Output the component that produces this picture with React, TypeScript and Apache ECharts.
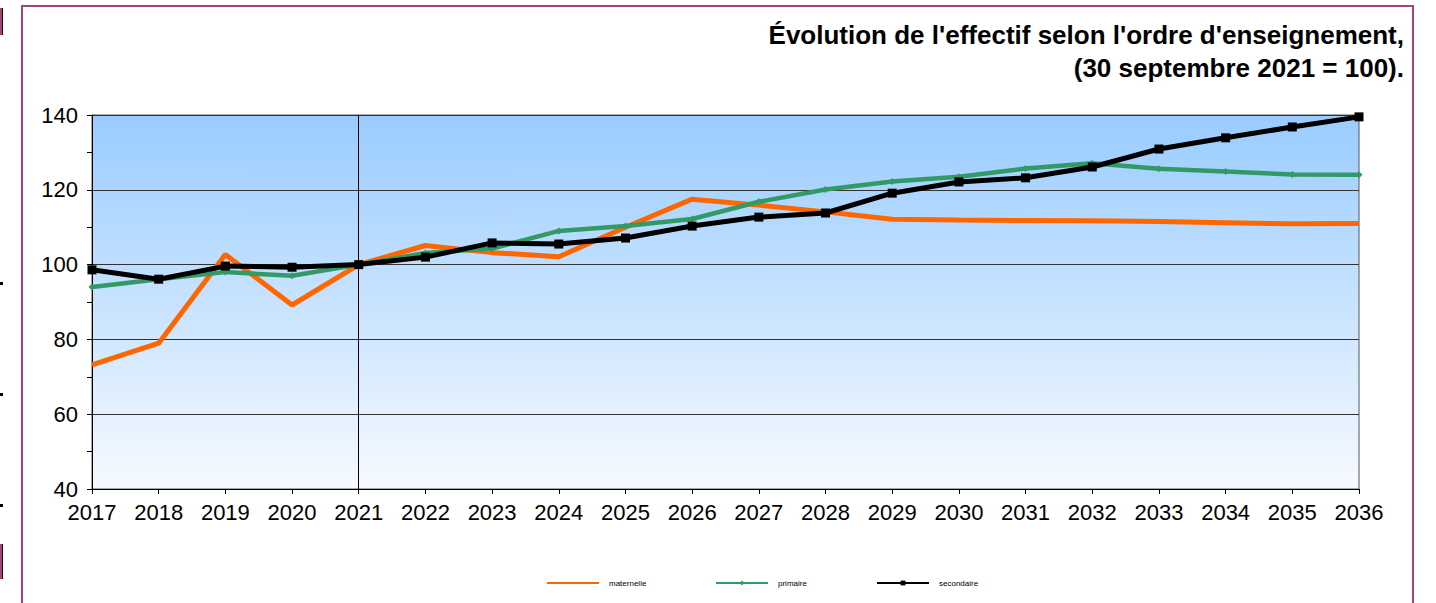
import React, { useEffect, useRef } from "react";
import * as echarts from "echarts";

const years = ["2017","2018","2019","2020","2021","2022","2023","2024","2025","2026","2027","2028","2029","2030","2031","2032","2033","2034","2035","2036"];
const maternelle = [73.2, 79.0, 102.7, 89.2, 100, 105.1, 103.2, 102.1, 110.0, 117.5, 115.9, 114.1, 112.1, 111.9, 111.8, 111.7, 111.5, 111.2, 110.9, 111.0];
const primaire = [94.0, 96.1, 98.0, 97.0, 100, 103.1, 104.3, 109.0, 110.3, 112.2, 116.8, 120.1, 122.2, 123.5, 125.7, 127.1, 125.6, 124.9, 124.1, 124.0];
const secondaire = [98.6, 96.1, 99.6, 99.3, 100, 102.0, 105.8, 105.5, 107.1, 110.3, 112.7, 113.8, 119.1, 122.1, 123.2, 126.1, 130.9, 133.9, 136.8, 139.5];
const seriesNames = ["maternelle", "primaire", "secondaire"];
const titleLines = ["Évolution de l'effectif selon l'ordre d'enseignement,", "(30 septembre 2021 = 100)."];
const referenceYear = "2021";

export default function App() {
  const ref = useRef<HTMLDivElement>(null);
  useEffect(() => {
    if (!ref.current) return;
    const chart = echarts.init(ref.current, null, { renderer: "svg" });
    const font = "'Liberation Sans', Arial, sans-serif";
    const legendBase = {
      top: 579, padding: 0,
      itemWidth: 52, itemHeight: 6,
      textStyle: { fontSize: 8, color: "#000", fontFamily: font, padding: [0, 0, 0, 5] },
    };
    chart.setOption({
      animation: false,
      textStyle: { fontFamily: font },
      grid: {
        left: 92, right: 77, top: 115, bottom: 114,
        show: true,
        borderColor: "#555",
        borderWidth: 1,
        backgroundColor: new echarts.graphic.LinearGradient(0, 0, 0, 1, [
          { offset: 0, color: "#99CCFF" },
          { offset: 1, color: "#F7FAFF" },
        ]),
      },
      legend: [
        { ...legendBase, left: 546, data: [{ name: seriesNames[0], itemStyle: { opacity: 0 } }] },
        { ...legendBase, left: 715, data: [seriesNames[1]] },
        { ...legendBase, left: 876, data: [seriesNames[2]] },
      ],
      xAxis: {
        type: "category",
        data: years,
        boundaryGap: false,
        axisLine: { lineStyle: { color: "#000", width: 1 } },
        axisTick: { show: true, length: 5, lineStyle: { color: "#000" } },
        axisLabel: { fontSize: 22, color: "#000", margin: 12, fontFamily: font },
        splitLine: { show: false },
      },
      yAxis: {
        type: "value",
        min: 40, max: 140, interval: 20,
        axisLine: { show: true, lineStyle: { color: "#000", width: 1 } },
        axisTick: { show: true, length: 5, lineStyle: { color: "#000" } },
        minorTick: { show: true, splitNumber: 2, length: 5, lineStyle: { color: "#000" } },
        axisLabel: { fontSize: 22, color: "#000", margin: 14, fontFamily: font },
        splitLine: { show: true, lineStyle: { color: "#333", width: 1 } },
      },
      series: [
        {
          name: seriesNames[0], type: "line", data: maternelle,
          symbol: "none", lineStyle: { color: "#FF6600", width: 5 }, itemStyle: { color: "#FF6600" },
          z: 2,
          markLine: {
            silent: true, symbol: "none", label: { show: false },
            lineStyle: { color: "#000", width: 1, type: "solid" },
            data: [{ xAxis: referenceYear }],
          },
        },
        {
          name: seriesNames[1], type: "line", data: primaire,
          symbol: "diamond", symbolSize: 7, showSymbol: true,
          lineStyle: { color: "#339966", width: 4.5 }, itemStyle: { color: "#339966" },
          z: 3,
        },
        {
          name: seriesNames[2], type: "line", data: secondaire,
          symbol: "rect", symbolSize: 9, showSymbol: true,
          lineStyle: { color: "#000", width: 5 }, itemStyle: { color: "#000" },
          z: 4,
        },
      ],
      graphic: [
        { type: "rect", shape: { x: 22, y: 6, width: 1391, height: 640 }, style: { fill: "none", stroke: "#A4437A", lineWidth: 2 }, silent: true },
        { type: "rect", shape: { x: 0, y: 8, width: 2, height: 27 }, style: { fill: "#A4437A" } },
        { type: "rect", shape: { x: 2, y: 8, width: 1, height: 27 }, style: { fill: "#000" } },
        { type: "rect", shape: { x: 0, y: 544, width: 2, height: 35 }, style: { fill: "#A4437A" } },
        { type: "rect", shape: { x: 2, y: 544, width: 1, height: 35 }, style: { fill: "#000" } },
        { type: "rect", shape: { x: 0, y: 282, width: 3, height: 3 }, style: { fill: "#000" } },
        { type: "rect", shape: { x: 0, y: 393, width: 3, height: 3 }, style: { fill: "#000" } },
        { type: "rect", shape: { x: 0, y: 504, width: 3, height: 3 }, style: { fill: "#000" } },
        {
          type: "text", x: 1404, y: 35,
          style: { text: titleLines[0], textAlign: "right", textVerticalAlign: "middle", fontSize: 26, fontWeight: "bold", fontFamily: font, fill: "#000" },
        },
        {
          type: "text", x: 1404, y: 68,
          style: { text: titleLines[1], textAlign: "right", textVerticalAlign: "middle", fontSize: 26, fontWeight: "bold", fontFamily: font, fill: "#000" },
        },
      ],
    });
    return () => chart.dispose();
  }, []);
  return <div ref={ref} style={{ position: "fixed", left: 0, top: 0, width: 1436, height: 603, background: "#fff" }} />;
}
